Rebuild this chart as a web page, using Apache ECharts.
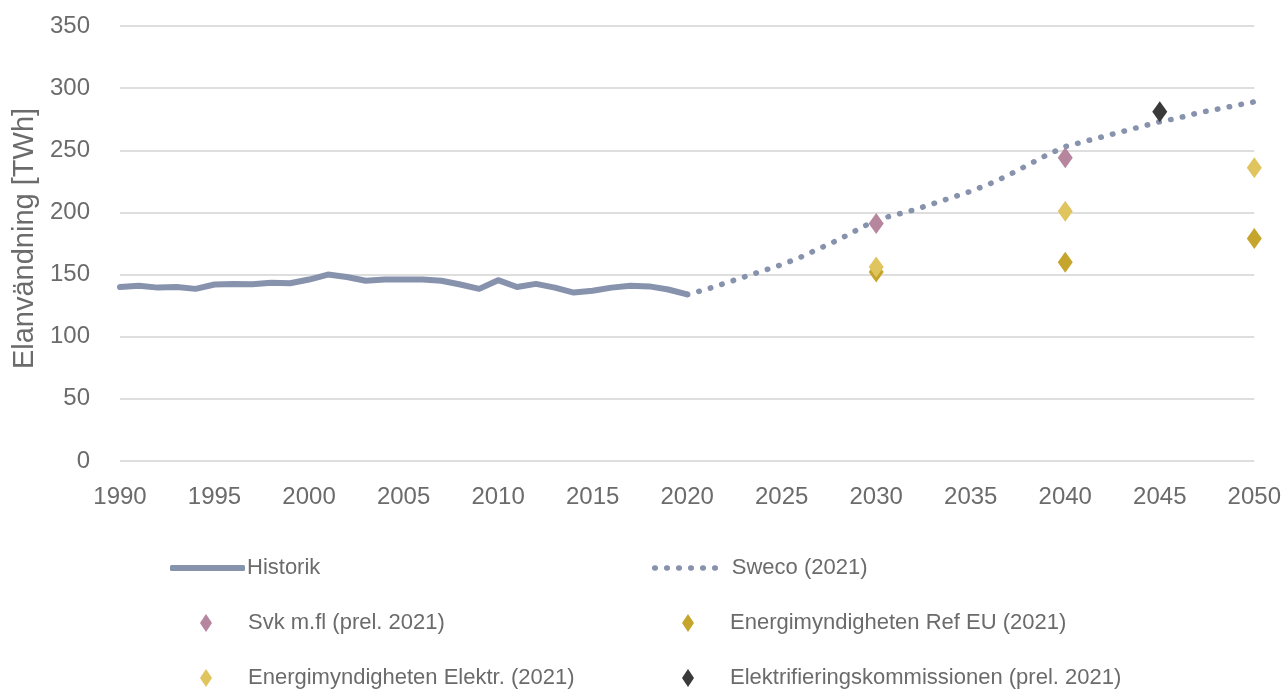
<!DOCTYPE html>
<html><head><meta charset="utf-8">
<script src="https://cdn.jsdelivr.net/npm/echarts@6/dist/echarts.min.js"></script>
<style>html,body{margin:0;padding:0;background:#fff}#c{width:1284px;height:692px}</style>
</head><body><div id="c"></div><script>
// ---- data ----
const histYears = [1990,1991,1992,1993,1994,1995,1996,1997,1998,1999,2000,2001,2002,2003,2004,2005,2006,2007,2008,2009,2010,2011,2012,2013,2014,2015,2016,2017,2018,2019,2020];
const histValues = [140,141,139.5,140,138.5,142,142.5,142.3,143.5,143,146,150,148,145,146,146,146,145,142,138.5,145.5,140,142.5,139.5,135.5,137,139.5,141,140.5,138,134];
const swecoYears = [2020,2021,2022,2023,2024,2025,2026,2027,2028,2029,2030,2031,2032,2033,2034,2035,2036,2037,2038,2039,2040,2041,2042,2043,2044,2045,2046,2047,2048,2049,2050];
const swecoValues = [134,138,143,148,153,158,164,171,178,186,194,198,202,207,212,217,223,230,238,246,253,257,261,265,269,273,276,280,283,286,289];
const svkYears = [2030,2040];
const svkValues = [191,244];
const emRefYears = [2030,2040,2050];
const emRefValues = [152,160,179];
const emElYears = [2030,2040,2050];
const emElValues = [156,201,236];
const ekYears = [2045];
const ekValues = [281];
const seriesNames = ['Historik','Sweco (2021)','Svk m.fl (prel. 2021)','Energimyndigheten Ref EU (2021)','Energimyndigheten Elektr. (2021)','Elektrifieringskommissionen (prel. 2021)'];
const xTicks = [1990,1995,2000,2005,2010,2015,2020,2025,2030,2035,2040,2045,2050];

const FONT = '"Liberation Sans Narrow", "Arial Narrow", "Liberation Sans", Arial, sans-serif';
const TXT = '#6b6b6b';
const C_LINE = '#8792ad', C_SVK = '#b6869f', C_REF = '#c6a52c', C_EL = '#e0c55e', C_EK = '#3a3a3a';

const zip = (xs, ys) => xs.map((x, i) => [x, ys[i]]);

const LFS = 22;
const legendBase = {
  orient: 'horizontal', padding: 0, itemGap: 0,
  textStyle: { fontFamily: FONT, fontSize: LFS, color: TXT }
};
const ts = pad => Object.assign({}, legendBase.textStyle, { padding: pad });
const legends = [
  Object.assign({}, legendBase, { data: [{ name: seriesNames[0], icon: 'roundRect' }], left: 170, top: 557, itemWidth: 75, itemHeight: 6, itemStyle: { color: C_LINE }, textStyle: ts([0,0,0,-3]) }),
  Object.assign({}, legendBase, { data: [seriesNames[1]], left: 652, top: 557, itemWidth: 68, itemHeight: 2, lineStyle: { width: 5.5 }, itemStyle: { opacity: 0 }, textStyle: ts([0,0,0,4]) }),
  Object.assign({}, legendBase, { data: [seriesNames[2]], left: 200, top: 612, itemWidth: 12, itemHeight: 18, textStyle: ts([0,0,0,31]) }),
  Object.assign({}, legendBase, { data: [seriesNames[3]], left: 682, top: 612, itemWidth: 12, itemHeight: 18, textStyle: ts([0,0,0,31]) }),
  Object.assign({}, legendBase, { data: [seriesNames[4]], left: 200, top: 667, itemWidth: 12, itemHeight: 18, textStyle: ts([0,0,0,31]) }),
  Object.assign({}, legendBase, { data: [seriesNames[5]], left: 682, top: 667, itemWidth: 12, itemHeight: 18, textStyle: ts([0,0,0,31]) })
];

const diamond = (name, xs, ys, color) => ({
  name, type: 'scatter', data: zip(xs, ys), symbol: 'diamond', symbolSize: [15, 21],
  itemStyle: { color, opacity: 1 }, z: 5
});

const chart = echarts.init(document.getElementById('c'), null, { renderer: 'canvas' });
chart.setOption({
  animation: false,
  backgroundColor: '#fff',
  grid: { left: 120, right: 27, top: 26, bottom: 231, containLabel: false },
  legend: legends,
  xAxis: {
    type: 'value', min: 1990, max: 2050, interval: 5,
    axisLine: { show: false }, axisTick: { show: false }, splitLine: { show: false },
    axisLabel: { fontFamily: FONT, fontSize: 24, color: TXT, margin: 24,
      formatter: v => xTicks.includes(v) ? String(v) : '' }
  },
  yAxis: {
    type: 'value', min: 0, max: 350, interval: 50,
    name: 'Elanvändning [TWh]', nameLocation: 'middle', nameGap: 70, nameRotate: 90,
    nameTextStyle: { fontFamily: FONT, fontSize: 29, color: TXT, padding: [0, 0, 0, 10] },
    axisLine: { show: false }, axisTick: { show: false },
    splitLine: { lineStyle: { color: '#dedede', width: 2 } },
    axisLabel: { fontFamily: FONT, fontSize: 24, color: TXT, margin: 30 }
  },
  series: [
    { name: seriesNames[0], type: 'line', data: zip(histYears, histValues), symbol: 'none',
      lineStyle: { color: C_LINE, width: 6, cap: 'round', join: 'round' }, itemStyle: { color: C_LINE }, z: 3 },
    { name: seriesNames[1], type: 'line', data: zip(swecoYears, swecoValues), symbol: 'none',
      lineStyle: { color: C_LINE, width: 5.5, type: [0.5, 11.5], cap: 'round' }, itemStyle: { color: C_LINE }, z: 3 },
    diamond(seriesNames[2], svkYears, svkValues, C_SVK),
    diamond(seriesNames[3], emRefYears, emRefValues, C_REF),
    diamond(seriesNames[4], emElYears, emElValues, C_EL),
    diamond(seriesNames[5], ekYears, ekValues, C_EK)
  ]
});
</script></body></html>
